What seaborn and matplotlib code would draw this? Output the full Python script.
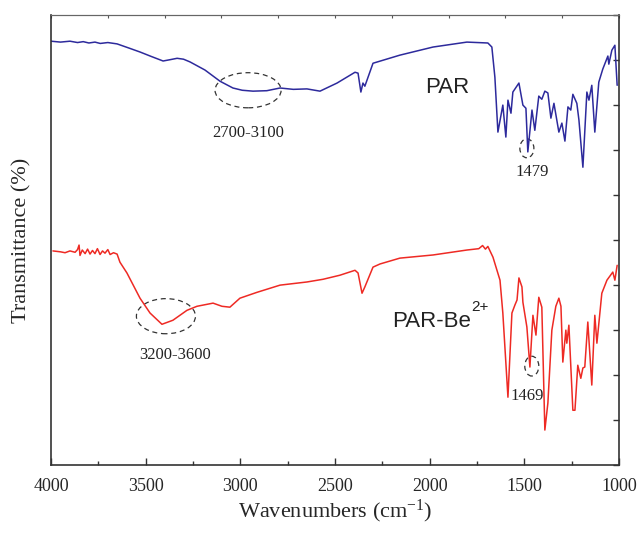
import matplotlib
matplotlib.use("Agg")
import matplotlib.pyplot as plt
from matplotlib.patches import Ellipse
from matplotlib.ticker import MultipleLocator
import numpy as np
import pandas as pd
import seaborn as sns

# PAR spectrum (wavenumber, transmittance in arbitrary units)
par_wn = [4000, 3950, 3900, 3860, 3830, 3800, 3768, 3740, 3700, 3651, 3590, 3530, 3470,
          3408, 3370, 3334, 3300, 3266, 3187, 3107, 3039, 2990, 2933, 2860, 2790, 2720,
          2648, 2579, 2489, 2394, 2378, 2363, 2352, 2342, 2299, 2157, 1982, 1803, 1692,
          1671, 1655, 1639, 1613, 1597, 1586, 1570, 1560, 1528, 1507, 1491, 1481, 1459,
          1444, 1423, 1407, 1391, 1375, 1359, 1343, 1317, 1301, 1285, 1269, 1254, 1243,
          1222, 1211, 1190, 1169, 1158, 1143, 1127, 1106, 1085, 1058, 1053, 1037, 1021, 1009]
par_t = [94.2, 94.0, 94.2, 93.9, 94.1, 93.8, 94.0, 93.7, 93.9, 93.6, 92.7, 91.8, 90.8,
         89.8, 90.1, 90.4, 90.2, 89.6, 87.8, 85.3, 83.8, 83.3, 83.1, 83.2, 83.8, 83.5,
         83.6, 83.1, 84.9, 87.3, 87.1, 82.9, 84.9, 84.2, 89.3, 91.1, 92.9, 94.0, 93.8,
         92.9, 86.2, 74.0, 80.0, 72.9, 81.1, 78.2, 82.9, 84.9, 80.0, 79.3, 69.6, 78.9,
         74.4, 82.0, 81.3, 83.1, 82.7, 77.1, 80.4, 74.0, 76.0, 72.0, 79.6, 78.9, 82.4,
         80.4, 76.7, 66.2, 82.9, 81.1, 84.4, 74.0, 85.1, 88.0, 90.9, 89.1, 92.2, 93.3, 84.4]

# PAR-Be2+ spectrum
be_wn = [3990, 3950, 3926, 3900, 3873, 3860, 3852, 3847, 3835, 3820, 3807, 3794, 3781,
         3768, 3755, 3741, 3728, 3715, 3700, 3688, 3670, 3651, 3636,
         3599, 3530, 3477, 3414, 3356, 3282, 3229, 3144, 3097, 3055, 3002, 2912, 2790,
         2648, 2563, 2474, 2394, 2378, 2357, 2342, 2299, 2262, 2157, 1982, 1803, 1740,
         1720, 1705, 1692,
         1665, 1644, 1628, 1613, 1586, 1565, 1549, 1538, 1528, 1512, 1507, 1486, 1470,
         1454, 1438, 1423, 1407, 1391, 1375, 1354, 1333, 1317, 1306, 1296, 1280, 1275,
         1264, 1243, 1232, 1217, 1201, 1190, 1180, 1164, 1143, 1127, 1116, 1090, 1063,
         1032, 1021, 1009]
be_t = [47.6, 47.4, 47.2, 47.6, 47.3, 47.9, 48.9, 46.6, 47.8, 47.0, 48.0, 46.9, 47.7,
        47.0, 48.1, 46.8, 47.6, 47.1, 47.9, 46.8, 47.2, 46.9, 45.1,
        42.7, 37.1, 33.8, 31.3, 32.2, 34.4, 35.3, 36.0, 35.3, 35.1, 37.1, 38.4, 40.0,
        40.7, 41.3, 42.2, 43.3, 42.7, 38.2, 39.6, 44.0, 44.7, 46.0, 46.7, 47.8, 48.1,
        48.8, 48.0, 48.6,
        46.2, 43.3, 41.1, 33.8, 15.1, 33.8, 35.6, 36.7, 41.6, 39.6, 36.2, 30.7, 21.8,
        33.3, 28.9, 37.3, 35.1, 7.8, 13.8, 30.0, 35.3, 37.1, 35.3, 22.9, 30.0, 27.1,
        31.1, 12.2, 12.2, 22.2, 19.3, 21.6, 21.8, 31.8, 17.8, 33.3, 27.1, 38.2, 41.1,
        42.9, 41.1, 44.4]

samples = ["PAR", "PAR-Be"]
colors = ["#2d2a9c", "#ee2a24"]

df = pd.concat([
    pd.DataFrame({"wn": par_wn, "t": par_t, "sample": "PAR"}),
    pd.DataFrame({"wn": be_wn, "t": be_t, "sample": "PAR-Be"}),
])

sns.set_theme(style="ticks")
plt.rcParams["font.family"] = ["Liberation Serif", "DejaVu Serif"]

fig = plt.figure(figsize=(6.38, 5.39), dpi=100)
ax = fig.add_axes([0.080, 0.137, 0.890, 0.835])

sns.lineplot(data=df, x="wn", y="t", hue="sample", palette=dict(zip(samples, colors)),
             estimator=None, sort=False, linewidth=1.1, legend=False, ax=ax)

ax.set_xlim(4000, 1000)
ax.set_ylim(0, 100)

# bottom axis ticks
ax.xaxis.set_major_locator(MultipleLocator(500))
ax.xaxis.set_minor_locator(MultipleLocator(250))
ax.tick_params(axis="x", which="major", direction="in", length=5, width=1,
               color="#333333", labelsize=13, pad=9, top=False)
ax.tick_params(axis="x", which="minor", direction="in", length=3, width=1,
               color="#333333", top=False)
# right axis ticks, no labels
ax.yaxis.tick_right()
ax.yaxis.set_major_locator(MultipleLocator(10))
ax.tick_params(axis="y", direction="in", length=4, width=1, color="#333333",
               labelright=False, left=False, labelleft=False)
# top ticks
top = ax.secondary_xaxis("top")
top.set_xticks(np.arange(1000, 4001, 300))
top.tick_params(direction="in", length=2, width=0.8, color="#555555", labeltop=False)
top.spines["top"].set_color("#666666")
top.spines["top"].set_linewidth(0.8)

for side in ["left", "bottom", "right"]:
    ax.spines[side].set_color("#333333")
    ax.spines[side].set_linewidth(1.2)
ax.spines["top"].set_color("#666666")
ax.spines["top"].set_linewidth(0.8)

ax.set_xlabel("Wavenumbers (cm$\\mathregular{^{-1}}$)", fontsize=16, labelpad=2)
ax.set_ylabel("Transmittance (%)", fontsize=16, labelpad=14)
ax.yaxis.set_label_position("left")

# dashed ellipses marking bands
dash = (0, (4, 3))
for (cx, cy, w, h) in [(2959, 83.3, 349, 7.8), (3393, 33.1, 312, 7.8),
                       (1486, 70.4, 74, 4.2), (1460, 22.0, 74, 4.4)]:
    ax.add_patch(Ellipse((cx, cy), w, h, fill=False, ec="#333333", lw=0.9, ls=dash))

ax.text(2959, 73.8, "2700-3100", fontsize=12, ha="center", va="center", color="#222222")
ax.text(3345, 24.4, "3200-3600", fontsize=12, ha="center", va="center", color="#222222")
ax.text(1459, 65.1, "1479", fontsize=12, ha="center", va="center", color="#222222")
ax.text(1486, 15.3, "1469", fontsize=12, ha="center", va="center", color="#222222")

sans = ["Liberation Sans", "DejaVu Sans"]
ax.text(2025, 82.7, "PAR", fontsize=16, ha="left", va="baseline", family=sans,
        color="#222222")
ax.text(2199, 30.7, "PAR-Be", fontsize=16, ha="left", va="baseline", family=sans,
        color="#222222")
ax.text(1780, 34.2, "2+", fontsize=11, ha="left", va="baseline", family=sans,
        color="#222222")

fig.savefig("out.png", dpi=100)
